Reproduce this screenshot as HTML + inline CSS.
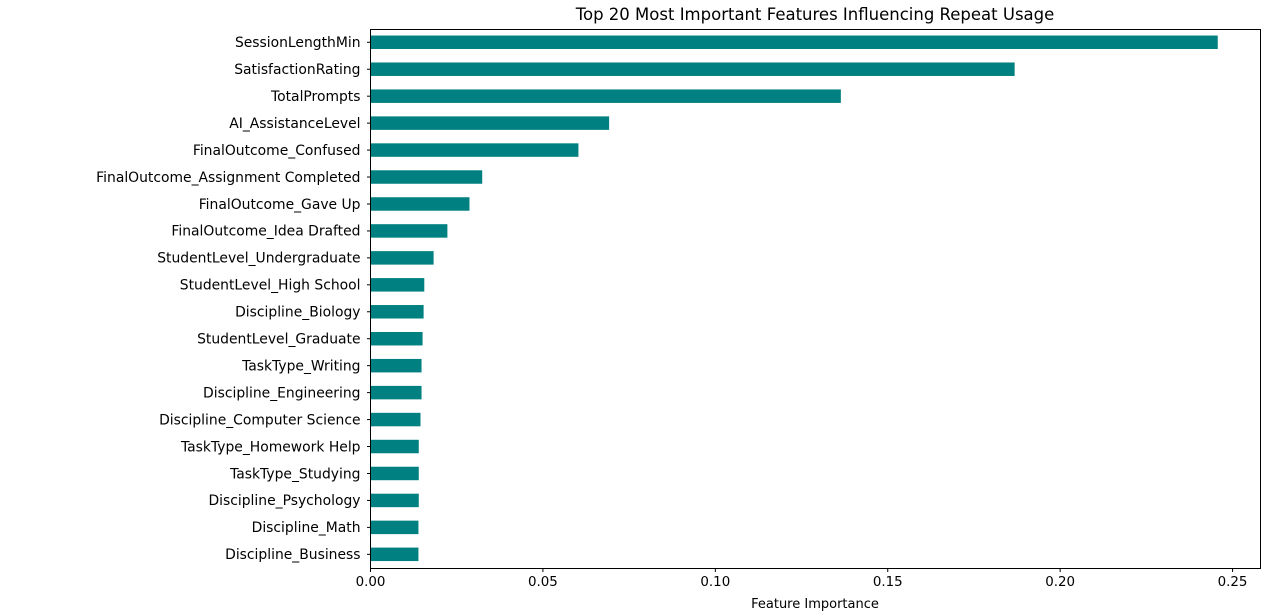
<!DOCTYPE html>
<html><head><meta charset="utf-8"><style>
body{margin:0;background:#fff;}
svg{display:block;font-family:"DejaVu Sans","Liberation Sans",sans-serif;}
</style></head><body>
<svg id="chart" width="1280" height="612" xmlns="http://www.w3.org/2000/svg">
<text x="815" y="20" text-anchor="middle" font-size="16.5" fill="#000">Top 20 Most Important Features Influencing Repeat Usage</text>
<g id="bars"></g>
<g id="yaxis"></g>
<g id="xaxis"></g>
<rect x="370.5" y="29.5" width="890" height="539" fill="none" stroke="#000" stroke-width="1"/>
<text x="815" y="608" text-anchor="middle" font-size="13" fill="#000">Feature Importance</text>
</svg>
<script>
const categories=["SessionLengthMin","SatisfactionRating","TotalPrompts","AI_AssistanceLevel","FinalOutcome_Confused","FinalOutcome_Assignment Completed","FinalOutcome_Gave Up","FinalOutcome_Idea Drafted","StudentLevel_Undergraduate","StudentLevel_High School","Discipline_Biology","StudentLevel_Graduate","TaskType_Writing","Discipline_Engineering","Discipline_Computer Science","TaskType_Homework Help","TaskType_Studying","Discipline_Psychology","Discipline_Math","Discipline_Business"];
const importance=[0.2457,0.1868,0.1364,0.0692,0.0603,0.0324,0.0287,0.0223,0.0183,0.0156,0.0154,0.0151,0.0148,0.0148,0.0145,0.0140,0.0140,0.0140,0.0139,0.0139];
const xTicks=[0,0.05,0.10,0.15,0.20,0.25];
const xTickLabels=["0.00","0.05","0.10","0.15","0.20","0.25"];
const NS="http://www.w3.org/2000/svg";
const L=370.5,R=1260.5,T=28.8,B=567.8,XMAX=0.2581;
const x=v=>L+v/XMAX*(R-L);
const band=(B-T)/categories.length;
const y=i=>T+(i+0.5)*band;
function mk(t,a,p){const e=document.createElementNS(NS,t);for(const k in a)e.setAttribute(k,a[k]);p.appendChild(e);return e;}
const gb=document.getElementById('bars'),gy=document.getElementById('yaxis'),gx=document.getElementById('xaxis');
categories.forEach((c,i)=>{
  const r=mk('rect',{x:x(0),y:y(i)-band*0.25,width:x(importance[i])-x(0),height:band*0.5,fill:'#008080'},gb);
  
  
  const tk=mk('line',{x1:L-3.5,x2:L,y1:y(i),y2:y(i),stroke:'#000'},gy);
  
  
  const t=mk('text',{x:L-10,y:y(i)+4.8,'text-anchor':'end','font-size':'13.9',fill:'#000'},gy);
  t.textContent=c;
  
  
});
xTicks.forEach((v,i)=>{
  const tk=mk('line',{x1:x(v),x2:x(v),y1:568.5,y2:572,stroke:'#000'},gx);
  
  
  const t=mk('text',{x:x(v),y:586,'text-anchor':'middle','font-size':'13.4',fill:'#000'},gx);
  t.textContent=xTickLabels[i];
  
  
});
</script>
</body></html>
